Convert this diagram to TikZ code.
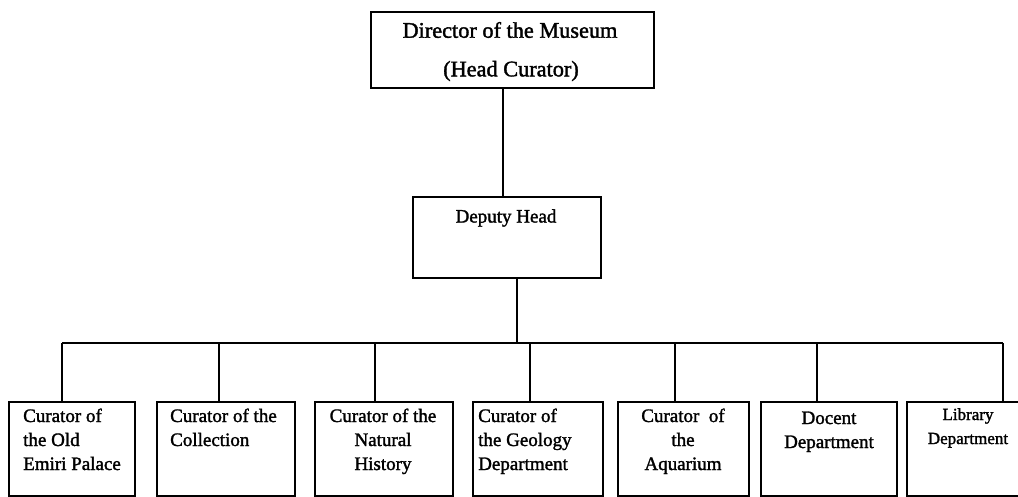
\documentclass[tikz,border=0pt]{standalone}
\usepackage{fontspec}
\setmainfont{Liberation Serif}
\newfontfamily\inkfont{Liberation Serif}[FakeBold=1.6]
\begin{document}
\begin{tikzpicture}[x=1pt,y=-1pt,
  box/.style={draw=black,line width=1.8pt,inner sep=0pt,fill=none},
  link/.style={draw=black,line width=1.8pt},
  big/.style={font=\inkfont\fontsize{22.3}{24}\selectfont,inner sep=0pt},
  lbl/.style={font=\inkfont\fontsize{19}{24}\selectfont,inner sep=0pt},
  sml/.style={font=\inkfont\fontsize{17}{24}\selectfont,inner sep=0pt}]
\useasboundingbox (0,0) rectangle (1018,497);
% top box
\node[box,minimum width=283pt,minimum height=76pt] (dir) at (512.5,50) {};
\node[big] (dirt1) at (510,30) {Director of the Museum};
\node[big] (dirt2) at (511,71) {(Head Curator)};
% deputy
\node[box,minimum width=188pt,minimum height=81pt] (dep) at (507,237.5) {};
\node[lbl] (dept) at (506,218) {Deputy Head};
% bar coordinates
\coordinate (hub) at (517,343);
\coordinate (d1) at (62,343);
\coordinate (d2) at (219,343);
\coordinate (d3) at (375,343);
\coordinate (d4) at (530,343);
\coordinate (d5) at (675,343);
\coordinate (d6) at (817,343);
\coordinate (d7) at (1003,343);
% bottom boxes
\node[box,minimum width=126pt,minimum height=94pt] (c1) at (72,449) {};
\node[box,minimum width=138pt,minimum height=94pt] (c2) at (226,449) {};
\node[box,minimum width=138pt,minimum height=94pt] (c3) at (384,449) {};
\node[box,minimum width=130pt,minimum height=94pt] (c4) at (538,449) {};
\node[box,minimum width=131pt,minimum height=94pt] (c5) at (683.5,449) {};
\node[box,minimum width=136pt,minimum height=94pt] (c6) at (829,449) {};
\node[box,minimum width=120pt,minimum height=94pt] (c7) at (967,449) {};
% texts (base anchor = last line baseline)
\node[lbl,anchor=base west,align=left] (t1) at (23,470) {Curator of\\the Old\\Emiri Palace};
\node[lbl,anchor=base west,align=left] (t2) at (170,446) {Curator of the\\Collection};
\node[lbl,anchor=base,align=center] (t3) at (383,470) {Curator of the\\Natural\\History};
\node[lbl,anchor=base west,align=left] (t4) at (478,470) {Curator of\\the Geology\\Department};
\node[lbl,anchor=base,align=center] (t5) at (683,470) {Curator\ \ of\\the\\Aquarium};
\node[lbl,anchor=base,align=center] (t6) at (829,448) {Docent\\Department};
\node[sml,anchor=base,align=center] (t7) at (968,444) {Library\\Department};
% connectors
\draw[link] (dir.south -| 503,0) -- (dep.north -| 503,0);
\draw[link] (dep.south -| hub) -- (hub);
\draw[link] (d1) -- (d7);
\draw[link] (d1) -- (c1.north -| d1);
\draw[link] (d2) -- (c2.north -| d2);
\draw[link] (d3) -- (c3.north -| d3);
\draw[link] (d4) -- (c4.north -| d4);
\draw[link] (d5) -- (c5.north -| d5);
\draw[link] (d6) -- (c6.north -| d6);
\draw[link] (d7) -- (c7.north -| d7);
\end{tikzpicture}
\end{document}
